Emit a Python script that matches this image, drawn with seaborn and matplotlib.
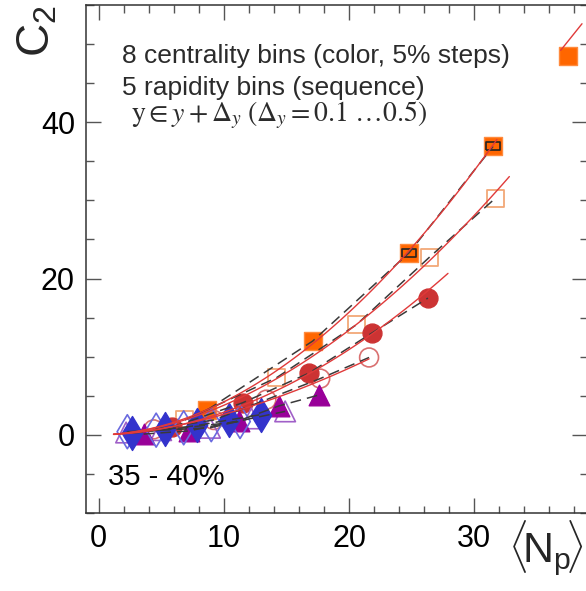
import numpy as np
import pandas as pd
import matplotlib
matplotlib.use("Agg")
import matplotlib.pyplot as plt
import seaborn as sns
from matplotlib.ticker import MultipleLocator, FixedLocator

# ---------------- data ----------------
sq_f_x = [8.7, 17.1, 24.8, 31.5]
sq_f_y = [3.2, 12.0, 23.3, 36.9]
sq_o_x = [6.9, 14.2, 20.6, 26.4, 31.7]
sq_o_y = [1.9, 7.3, 14.1, 22.7, 30.3]
ci_f_x = [5.9, 11.5, 16.8, 21.8, 26.3]
ci_f_y = [1.0, 4.1, 7.9, 13.0, 17.5]
ci_o_x = [4.4, 9.2, 13.4, 17.7, 21.6]
ci_o_y = [0.7, 1.9, 4.5, 7.2, 9.9]
tr_f_x = [3.6, 7.2, 11.2, 14.4, 17.6]
tr_f_y = [0.1, 0.5, 1.8, 3.7, 5.1]
tr_o_x = [2.2, 5.0, 8.9, 12.2, 14.9]
tr_o_y = [0.3, 0.6, 0.9, 2.1, 3.0]
di_f_x = [2.7, 5.3, 7.9, 10.4, 13.0]
di_f_y = [0.2, 0.7, 1.2, 1.9, 2.6]
di_o_x = [2.3, 4.6, 6.8, 9.0, 11.3]
di_o_y = [0.4, 0.6, 0.9, 1.3, 1.7]
boxed_x = [24.8, 31.5]          # filled squares with an inner black box
boxed_y = [23.3, 36.9]
key_x = [37.5]                  # cut-off legend key marker at top right
key_y = [48.5]
key_line_x = [36.9, 38.6]
key_line_y = [49.2, 52.6]

x_ticks = [0, 10, 20, 30]
y_ticks = [0, 20, 40]
legend_lines = ["8 centrality bins (color, 5% steps)",
                "5 rapidity bins (sequence)"]
legend_math = r"$\mathrm{y} \in y + \Delta_y\; (\Delta_y = 0.1\ \ldots 0.5)$"
cent_label = "35 - 40%"

# ---------------- style ----------------
sns.set_theme(style="ticks")
plt.rcParams["font.family"] = ["Liberation Sans", "DejaVu Sans"]
plt.rcParams["mathtext.rm"] = "Liberation Sans"
plt.rcParams["mathtext.it"] = "Liberation Sans:italic"

fig = plt.figure(figsize=(5.86, 5.91), dpi=100)
W, H = 586, 591
ax = fig.add_axes([86 / W, 1 - 513 / H, (587 - 86) / W, (513 - 5) / H])

series = [
    # x, y, marker, face, edge, size, lw, fit?, fit_end
    (sq_o_x, sq_o_y, "s", "none", "#F2A877", 150, 1.3, True, 1.1),
    (sq_f_x, sq_f_y, "s", "#FF6600", "#FF8A3D", 150, 1.0, True, 0.3),
    (ci_o_x, ci_o_y, "o", "none", "#D97070", 185, 1.2, True, 0.0),
    (ci_f_x, ci_f_y, "o", "#CC3333", "#CC3333", 185, 1.0, True, 1.6),
    (tr_o_x, tr_o_y, "^", "none", "#A060C8", 220, 1.2, False, 0),
    (tr_f_x, tr_f_y, "^", "#990099", "#990099", 220, 1.0, False, 0),
    (di_o_x, di_o_y, "d", "none", "#6A6ADF", 300, 1.2, False, 0),
    (di_f_x, di_f_y, "d", "#3333CC", "#3333CC", 300, 1.0, False, 0),
]

for i, (xs, ys, mk, fc, ec, s, lw, fit, fend) in enumerate(series):
    sns.scatterplot(x=xs, y=ys, ax=ax, marker=mk, s=s, color=fc,
                    edgecolor=ec, linewidth=lw, zorder=2 + i * 0.01,
                    legend=False)

# black overlay boxes on two filled squares
box = [(-1, -0.55), (1, -0.55), (1, 0.55), (-1, 0.55), (-1, -0.55)]
sns.scatterplot(x=boxed_x, y=boxed_y, ax=ax, marker=box, s=110,
                color="none", edgecolor="#222222", linewidth=1.2,
                zorder=2.5, legend=False)

# legend key marker at top right
sns.scatterplot(x=key_x, y=key_y, ax=ax, marker="s", s=150, color="#FF6600",
                edgecolor="#FF8A3D", linewidth=1.0, zorder=2.5, legend=False)
sns.lineplot(x=key_line_x, y=key_line_y, ax=ax, color="#E03A3A", lw=1.0,
             zorder=4, estimator=None)

# dashed connecting lines
for xs, ys, *_ in series:
    sns.lineplot(x=xs, y=ys, ax=ax, color="#3A3A3A", lw=1.1,
                 linestyle=(0, (7, 4)), zorder=4, estimator=None, sort=False)

# red fit lines (power law through each series)
for xs, ys, mk, fc, ec, s, lw, fit, fend in series:
    if not fit:
        continue
    b, a = np.polyfit(np.log(xs), np.log(ys), 1)
    xf = np.linspace(1.2, max(xs) + fend, 120)
    yf = np.exp(a) * xf ** b
    sns.lineplot(x=xf, y=yf, ax=ax, color="#E03A3A", lw=1.0, zorder=4.5,
                 estimator=None)

# axes
ax.set_xlim(-1, 39)
ax.set_ylim(-10, 55)
ax.xaxis.set_major_locator(FixedLocator(x_ticks))
ax.yaxis.set_major_locator(FixedLocator(y_ticks))
ax.xaxis.set_minor_locator(MultipleLocator(2))
ax.yaxis.set_minor_locator(MultipleLocator(5))
ax.tick_params(which="both", direction="in", top=True, right=True,
               color="#555555", width=1.0, labelsize=22, pad=8,
               labelcolor="black")
ax.tick_params(which="major", length=10.8)
ax.tick_params(which="minor", length=5.4)
for sp in ax.spines.values():
    sp.set_color("#333333")
    sp.set_linewidth(1.1)
ax.set_xlabel("")
ax.set_ylabel("")

# texts
fig.text(122 / W, 1 - 63 / H, legend_lines[0], fontsize=19, color="#2b2b2b",
         va="baseline", ha="left")
fig.text(122 / W, 1 - 95 / H, legend_lines[1], fontsize=19, color="#2b2b2b",
         va="baseline", ha="left")
fig.text(131 / W, 1 - 121 / H, legend_math, fontsize=20, color="#2b2b2b",
         va="baseline", ha="left", math_fontfamily="stix")
fig.text(108 / W, 1 - 485 / H, cent_label, fontsize=21,
         va="baseline", ha="left", color="black")
fig.text(584 / W, 1 - 563 / H,
         r"$\langle\!\mathrm{N}_{\mathrm{p}}\!\rangle$",
         fontsize=31, va="baseline", ha="right", math_fontfamily="custom")
fig.text(38 / W, 1 - 31 / H, r"$\mathrm{C}_{\mathrm{2}}$", fontsize=33,
         rotation=90, va="center", ha="center", math_fontfamily="custom")

fig.savefig("out.png", dpi=100)
